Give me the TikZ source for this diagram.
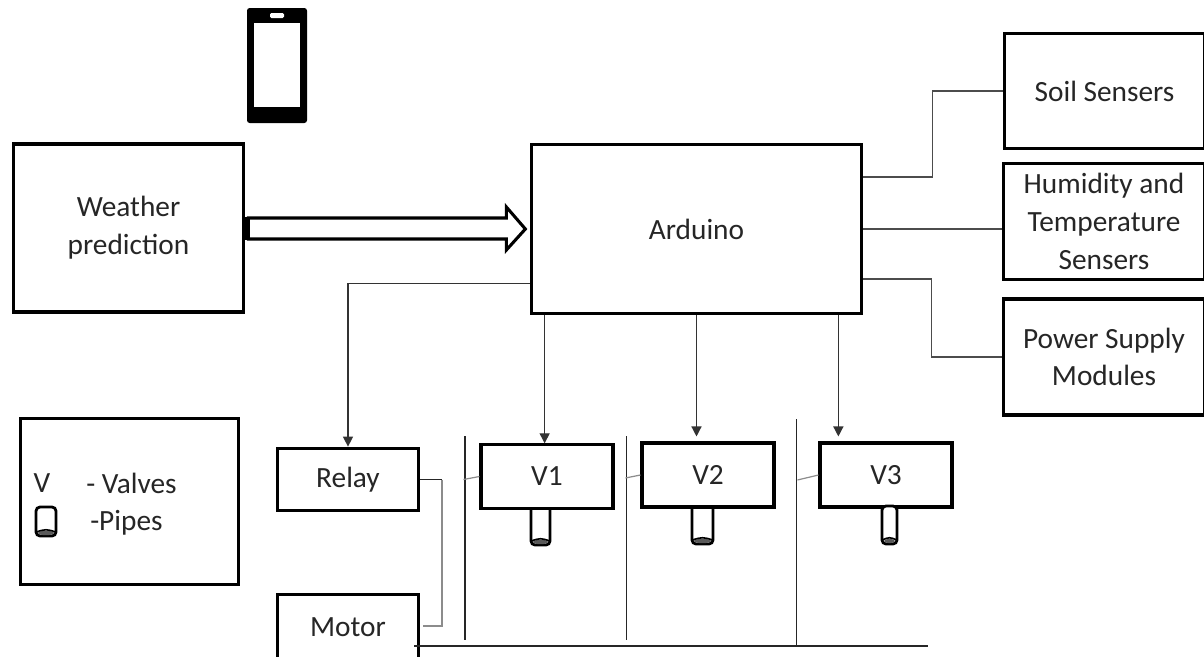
\documentclass[tikz,border=0pt]{standalone}
\usepackage{fontspec}
\setmainfont{Carlito}
\usetikzlibrary{arrows.meta,calc}
\definecolor{ink}{HTML}{262626}
\tikzset{
  boxnode/.style={draw=black,line width=2.3pt,fill=white,align=center,text=ink,inner sep=0pt,font=\fontsize{22}{28.2}\selectfont},
  txt/.style={text=ink,inner sep=0pt,font=\fontsize{22}{28}\selectfont},
  conn/.style={draw=black!70,line width=0.95pt},
  darkconn/.style={draw=black!85,line width=0.95pt},
  lightconn/.style={draw=black!45,line width=1.1pt},
  arrowconn/.style={draw=black!80,line width=0.95pt,-{Triangle[length=7.5pt,width=7.5pt]}},
  pipeline/.style={draw=black!85,line width=0.95pt},
  pipeshape/.style={draw=black,line width=2.1pt,fill=white,rounded corners=3pt},
}
\newcommand{\pipeat}[5]{% name, x left, x right, y top, y bottom
  \draw[pipeshape] (#2,#4) -- (#2,#5) -- (#3,#5) -- (#3,#4) -- cycle;
  \fill[black!65] ({(#2+#3)/2},{#5-3}) ellipse ({(#3-#2)/2-2} and 2.2);
  \draw[black,line width=1.2pt] (#2,{#5-4}) .. controls ({(#2+#3)/2},{#5-7}) .. (#3,{#5-4});
  \coordinate (#1) at ({(#2+#3)/2},#4);
}
\begin{document}
\begin{tikzpicture}[x=0.75pt,y=-0.75pt]
\clip (0,0) rectangle (1204,657);
\fill[white] (0,0) rectangle (1204,657);
% phone
\fill[black,rounded corners=2pt] (247,8) rectangle (307,123);
\fill[white] (254,23) rectangle (300,107);
\fill[white,rounded corners=1pt] (270,13) rectangle (284,18);
% pipes attached behind their valves
\pipeat{p1}{531}{550}{498}{545}
\pipeat{p2}{692}{713}{498}{544}
% boxes
\node[boxnode,minimum width=173pt,minimum height=126pt] (wea) at (128.5,228) {\raisebox{-2pt}{\begin{tabular}{@{}c@{}}Weather\\prediction\end{tabular}}};
\node[boxnode,minimum width=248pt,minimum height=127pt] (ard) at (696.5,229) {Arduino};
\node[boxnode,minimum width=150pt,minimum height=86pt] (soil) at (1104.5,91) {Soil Sensers};
\node[boxnode,minimum width=151pt,minimum height=87pt] (hum) at (1104,221.5) {Humidity and\\Temperature\\Sensers};
\node[boxnode,minimum width=151pt,minimum height=87pt] (pow) at (1104,357) {Power Supply\\Modules};
\node[boxnode,minimum width=163pt,minimum height=125pt] (leg) at (129.5,501.5) {};
\node[boxnode,minimum width=106pt,minimum height=47pt] (rel) at (348,479.5) {Relay};
\node[boxnode,minimum width=106pt,minimum height=49pt] (mot) at (348,627) {Motor};
\node[boxnode,minimum width=99pt,minimum height=47.5pt] (v1) at (547,476.5) {V1};
\node[boxnode,minimum width=99pt,minimum height=48pt] (v2) at (708,475) {V2};
\node[boxnode,minimum width=99pt,minimum height=48pt] (v3) at (886,475) {V3};
% legend
\node[txt] (lv) at (42,483) {V};
\node[txt,anchor=west] (lvv) at (86,483) {- Valves};
\node[txt,anchor=west] (lpp) at (90,523) {-Pipes};
\pipeat{lp}{36}{56}{507}{536}
\pipeat{p3}{882}{897}{506}{544}
% weather arrow
\draw[black,line width=2.3pt,fill=white,line join=miter]
  ($(wea.east)+(3,-10)$) -- ++(258,0) -- ++(0,-11) -- ($(wea.east)+(280,1)$)
  -- ($(wea.east)+(261,22)$) -- ++(0,-11) -- ($(wea.east)+(3,11)$) -- cycle;
\fill[black] ($(wea.east)+(0,-11)$) rectangle ($(wea.east)+(5,12)$);
% sensor connectors
\draw[conn] ($(ard.east)+(0,-52)$) -- ++(69,0) |- (soil.west);
\draw[conn] (ard.east) -- (ard.east -| hum.west);
\draw[conn] ($(ard.east)+(0,50)$) -- ++(68,0) |- (pow.west);
% outputs
\draw[arrowconn] ($(ard.south west)+(0,-32)$) -| (rel.north);
\coordinate (a1) at ($(ard.south west)+(15,0)$);
\coordinate (a2) at (ard.south);
\coordinate (a3) at ($(ard.south east)+(-25,0)$);
\draw[arrowconn] (a1) -- (a1 |- v1.north);
\draw[arrowconn] (a2) -- ($(a2 |- v2.north)+(0,-5)$);
\draw[arrowconn] (a3) -- ($(a3 |- v3.north)+(0,-5)$);
% relay to motor
\draw[darkconn] (rel.east) -- ++(14,0);
\draw[lightconn] ($(rel.east)+(22,0)$) -- ($(mot.east)+(22,-1)$) -- ($(mot.east)+(3,-1)$);
\draw[darkconn] ($(rel.east)+(14,0)$) -- ($(rel.east)+(22,0)$);
% header lines
\coordinate (hl) at (414,646);
\coordinate (hr) at (928,646);
\draw[pipeline] (hl) -- (hr);
\coordinate (b1) at (465,436);
\coordinate (b2) at (626.5,436);
\coordinate (b3) at (796.5,419);
\draw[pipeline] (b1) -- (465,640);
\draw[pipeline] (b2) -- (626.5,640);
\draw[pipeline] (b3) -- (796.5,646);
\draw[lightconn,line width=0.9pt] (v1.west) -- ++(-16,3);
\draw[lightconn,line width=0.9pt] (v2.west) -- ++(-15,3);
\draw[lightconn,line width=0.9pt] (v3.west) -- ++(-21,5);
\end{tikzpicture}
\end{document}
